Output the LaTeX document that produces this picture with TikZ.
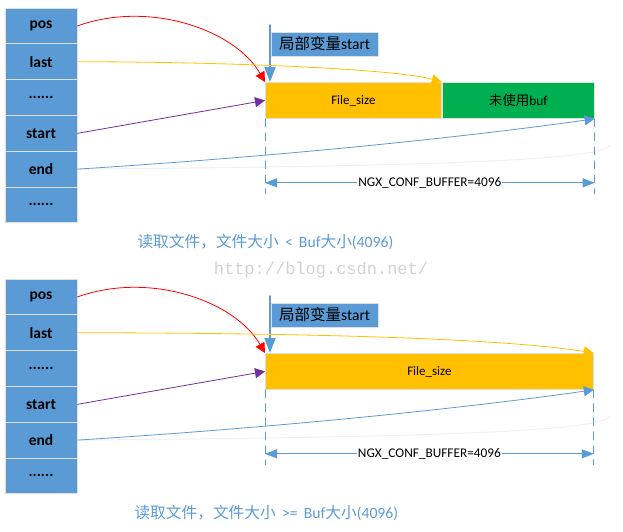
\documentclass[tikz,border=0pt]{standalone}
\usepackage{fontspec}
\setmainfont{Carlito}
\newfontfamily\cjk{Noto Sans CJK SC}
\newfontfamily\wmfont{Liberation Mono}
\usetikzlibrary{arrows.meta}
\definecolor{bluec}{HTML}{5B9BD5}
\definecolor{orangec}{HTML}{FFC000}
\definecolor{greenc}{HTML}{00B050}
\definecolor{redc}{HTML}{FF0000}
\definecolor{purplec}{HTML}{7030A0}
\newcommand\sixdots{......}
\tikzset{
	cell/.style={draw=gray!25, line width=1pt, fill=bluec, minimum width=72pt, minimum height=35.8pt, inner sep=0pt, font=\fontsize{15.5}{17}\selectfont\bfseries},
	buf/.style={draw=gray!25, line width=.8pt, minimum height=36pt, inner sep=0pt, anchor=north west, font=\fontsize{13}{15}\selectfont},
	tag/.style={draw=gray!25, fill=bluec, minimum height=24pt, minimum width=107pt, inner sep=3pt, anchor=west, font=\fontsize{15.5}{17}\selectfont},
	ptr/.style={line width=.8pt, -{Triangle[length=10pt,width=10pt]}},
	caption/.style={text=bluec, anchor=west, font=\fontsize{15.7}{17}\selectfont},
	dimline/.style={bluec, line width=.8pt, {Triangle[length=12pt,width=9pt]}-{Triangle[length=12pt,width=9pt]}},
	dimlabel/.style={fill=white, text=black, inner sep=1pt, font=\fontsize{13.3}{15}\selectfont},
	guide/.style={bluec, line width=.8pt, dash pattern=on 8pt off 6pt}
}
\begin{document}
\begin{tikzpicture}[x=1pt, y=-1pt, line join=round, line cap=round]
	\useasboundingbox (0,0) rectangle (623,531);
	% ngx_buf_t fields
	\foreach \p/\dy in {a/0,b/271}
	\foreach \t [count=\i] in {pos,last,\sixdots,start,end,\sixdots}
	\node[cell] (\p\i) at (41,{\dy+8+35.8*(\i-0.5)}) {\t};
	
	% file size < buf size
	\node[buf, fill=orangec, minimum width=176pt] (fa) at (265,82) {File\_size};
	\node[buf, fill=greenc, minimum width=152pt, anchor=west, font=\fontsize{13.5}{15}\selectfont] (ua) at (fa.east) {{\cjk 未使用}buf};
	\node[tag] (ta) at (271,44) {{\cjk 局部变量}start};
	\coordinate (sa) at (270,25);
	\coordinate (ha) at (610,145);
	\draw[gray!12, line width=1pt] (a5.east) .. controls (450,166) and (600,160) .. (ha);
	\draw[bluec, line width=2pt, -{Triangle[length=15pt,width=11pt]}] (sa) -- (sa |- fa.north);
	\draw[redc, ptr] (a1.east) .. controls (150,0) and (235,30) .. (fa.north west);
	\draw[orangec, ptr] (a2.east) .. controls (250,62) and (400,70) .. (fa.north east);
	\draw[purplec, ptr] (a4.east) -- (fa.west);
	\draw[bluec, ptr] (a5.east) .. controls (300,155) and (480,135) .. (ua.south east);
	\draw[guide] (fa.south west) -- ++(0,75);
	\draw[guide] (ua.south east) -- ++(0,75);
	\draw[dimline] ([yshift=-64pt]fa.south west) -- node[dimlabel] (na) {NGX\_CONF\_BUFFER=4096} ([yshift=-64pt]ua.south east);
	\node[caption] (ca) at (134,242) {{\cjk 读取文件，文件大小}~\,<\,~Buf{\cjk 大小}(4096)};
	\node[text=gray!35, font=\wmfont\fontsize{17}{18}\selectfont] (wm) at (321,270) {http://blog.csdn.net/};
	
	% file size >= buf size
	\node[buf, fill=orangec, minimum width=328pt] (fb) at (265,353) {File\_size};
	\node[tag] (tb) at (271,315) {{\cjk 局部变量}start};
	\coordinate (sb) at (270,296);
	\coordinate (hb) at (610,416);
	\draw[gray!12, line width=1pt] (b5.east) .. controls (450,437) and (600,431) .. (hb);
	\draw[bluec, line width=2pt, -{Triangle[length=15pt,width=11pt]}] (sb) -- (sb |- fb.north);
	\draw[redc, ptr] (b1.east) .. controls (150,271) and (235,301) .. (fb.north west);
	\draw[orangec, ptr] (b2.east) .. controls (300,333) and (500,338) .. (fb.north east);
	\draw[purplec, ptr] (b4.east) -- (fb.west);
	\draw[bluec, ptr] (b5.east) .. controls (300,426) and (480,406) .. (fb.south east);
	\draw[guide] (fb.south west) -- ++(0,75);
	\draw[guide] (fb.south east) -- ++(0,75);
	\draw[dimline] ([yshift=-64pt]fb.south west) -- node[dimlabel] (nb) {NGX\_CONF\_BUFFER=4096} ([yshift=-64pt]fb.south east);
	\node[caption] (cb) at (131,513) {{\cjk 读取文件，文件大小}~\,>=\,~Buf{\cjk 大小}(4096)};
\end{tikzpicture}
\end{document}
